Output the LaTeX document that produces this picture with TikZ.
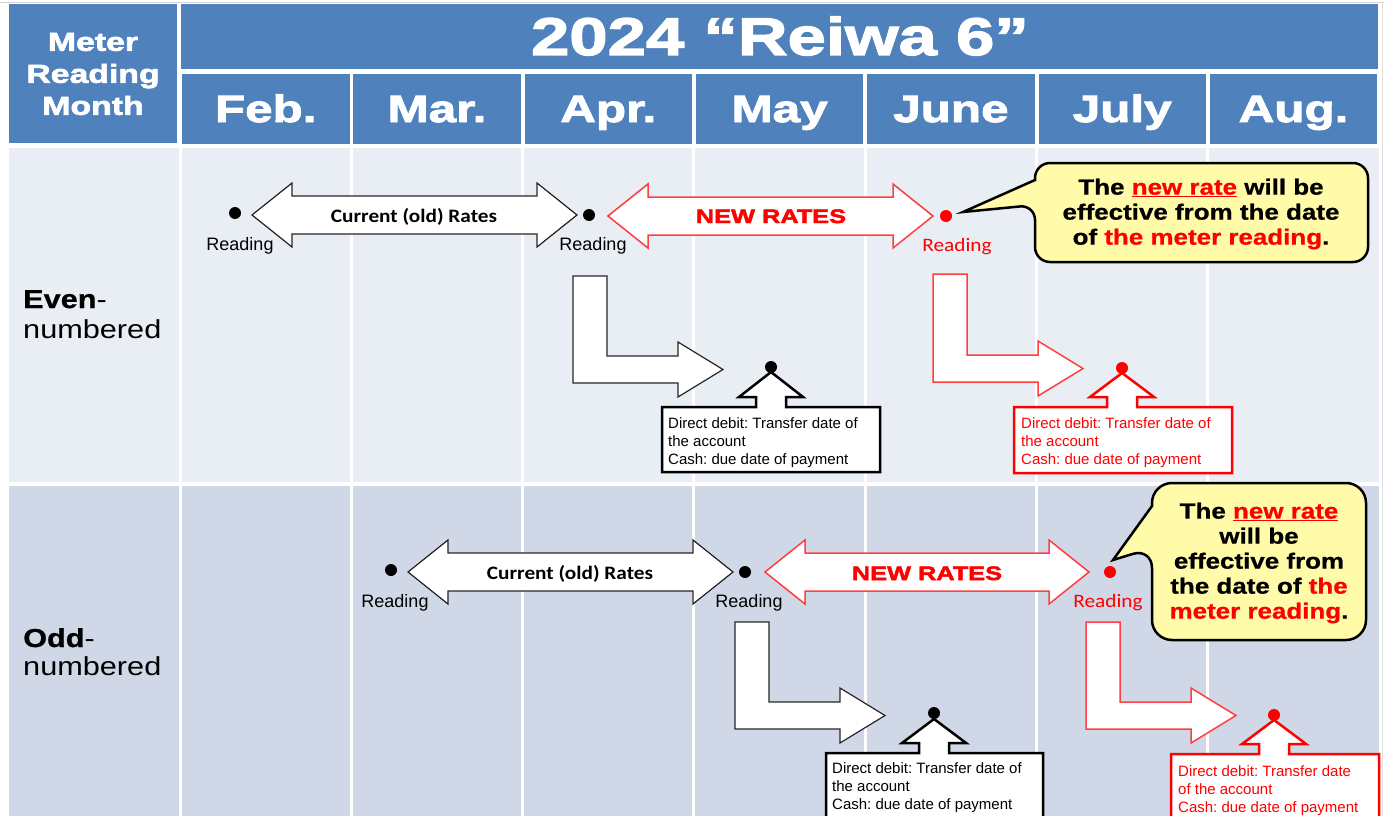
\documentclass[tikz,border=0pt]{standalone}
\usepackage{fontspec}
\setmainfont{Liberation Sans}
\newfontfamily\hdrfont{Liberation Sans}[FakeStretch=1.3,BoldFeatures={FakeBold=2.5}]
\newfontfamily\widefont{Liberation Sans}[FakeStretch=1.18,BoldFeatures={FakeBold=0.8}]
\newfontfamily\calibrifont{Carlito}[FakeStretch=1.12]
\usepackage{tikz}
\frenchspacing

\definecolor{hdrblue}{HTML}{4F81BD}
\definecolor{evenrow}{HTML}{E9EDF4}
\definecolor{oddrow}{HTML}{D0D8E8}
\definecolor{notefill}{HTML}{FFFBA8}
\definecolor{lightred}{HTML}{FF4040}

\begin{document}
\begin{tikzpicture}[x=1pt,y=-1pt,
  rdot/.style={circle,fill=#1,inner sep=0pt,minimum size=12pt},
  rdot/.default=black,
  oldread/.style={anchor=base,font=\fontsize{18}{20}\selectfont},
  newread/.style={anchor=base,text=red,font=\calibrifont\fontsize{19}{21}\selectfont},
  oldarrow/.style={draw=black!85,fill=white,line width=1.2pt},
  newarrow/.style={draw=lightred,fill=white,line width=1.5pt},
  oldbox/.style={draw=black,fill=white,line width=2.5pt},
  newbox/.style={draw=red,fill=white,line width=2.5pt},
  boxtext/.style={anchor=north west,align=left,inner sep=0pt,font=\fontsize{15}{18}\selectfont},
  note/.style={draw=black,fill=notefill,line width=2.5pt},
  notetext/.style={align=center,inner sep=0pt,font=\widefont\bfseries\fontsize{22}{25}\selectfont},
  monthtext/.style={anchor=base,text=white,font=\hdrfont\bfseries\fontsize{38}{40}\selectfont},
  rowlabel/.style={anchor=base west,inner sep=0pt,font=\widefont\fontsize{26}{30}\selectfont}]

  \useasboundingbox (0,0) rectangle (1384,816);
  \fill[white] (0,0) rectangle (1384,816);

  % shapes used twice per row
  \def\dblarrow#1#2#3#4{% left tip, right tip, middle, style
    \draw[#4] (#1,#3) -- (#1+40,#3-32) -- (#1+40,#3-19) -- (#2-40,#3-19) -- (#2-40,#3-32)
      -- (#2,#3) -- (#2-40,#3+32) -- (#2-40,#3+19) -- (#1+40,#3+19) -- (#1+40,#3+32) -- cycle;}
  \def\elbow#1#2#3#4#5{% left, top, bottom, tip, style
    \draw[#5] (#1,#2) -- (#1+34,#2) -- (#1+34,#3-27) -- (#4-45,#3-27) -- (#4-45,#3-41)
      -- (#4,#3-13.5) -- (#4-45,#3+14) -- (#4-45,#3) -- (#1,#3) -- cycle;}
  \def\upbox#1#2#3#4#5#6#7{% box corners, tip, style
    \draw[#7] (#1,#2) -- (#5-15,#2) -- (#5-15,#2-10) -- (#5-32,#2-10) -- (#5,#6) -- (#5+32,#2-10)
      -- (#5+15,#2-10) -- (#5+15,#2) -- (#3,#2) -- (#3,#4) -- (#1,#4) -- cycle;}

  % Header
  \draw[gray!35] (0,2) -- (1384,2);
  \draw[gray!25] (1382,2) -- (1382,816);
  \fill[hdrblue] (9,4) rectangle (177,143);
  \node[align=center,text=white,font=\hdrfont\bfseries\fontsize{26}{32}\selectfont] (meter) at (93,74) {Meter\\Reading\\Month};
  \fill[hdrblue] (181,4) rectangle (1378,69);
  \node[anchor=base,text=white,font=\hdrfont\bfseries\fontsize{53}{60}\selectfont] (title) at (780,55) {2024 “Reiwa 6”};
  \foreach \m [count=\i from 0] in {Feb.,Mar.,Apr.,May,June,July,Aug.} {
    \fill[hdrblue] (182+171.3*\i,74) rectangle (349.5+171.3*\i,144);
    \node[monthtext] (month\i) at (265.7+171.3*\i,122) {\m};
  }

  % Rows
  \fill[evenrow] (9,148) rectangle (1379,482);
  \fill[oddrow] (9,486) rectangle (1379,816);
  \foreach \i in {0,...,6}
    \draw[white,line width=3pt] (180+171.3*\i,148) -- (180+171.3*\i,816);
  \node[rowlabel] (even) at (23,308) {\textbf{Even}-};
  \node[rowlabel] (evennum) at (23,338) {numbered};
  \node[rowlabel] (odd) at (23,647) {\textbf{Odd}-};
  \node[rowlabel] (oddnum) at (23,675) {numbered};

  % Even-numbered row
  \dblarrow{252}{577}{215}{oldarrow}
  \node[anchor=base,font=\calibrifont\bfseries\fontsize{19}{21}\selectfont] (oldE) at (414,222) {Current (old) Rates};
  \dblarrow{608}{933}{216}{newarrow}
  \node[anchor=base,text=red,font=\hdrfont\bfseries\fontsize{19.5}{22}\selectfont] (newE) at (771,223) {NEW RATES};
  \node[rdot] (readE1) at (235,213) {};
  \node[rdot] (readE2) at (589,215) {};
  \node[rdot=red] (readE3) at (946,216) {};
  \node[oldread] (labE1) at (240,250) {Reading};
  \node[oldread] (labE2) at (593,250) {Reading};
  \node[newread] (labE3) at (957,251) {Reading};

  \draw[note] (1200,163) [rounded corners=15] -- (1368,163) -- (1368,262) -- (1035,262) -- (1035,205)
    [sharp corners] -- (963,212) -- (1035,180) [rounded corners=15] -- (1035,163) -- cycle;
  \node[notetext] (noteE) at (1201,214) {The \textcolor{red}{\underline{new rate}} will be\\effective from the date\\of \textcolor{red}{the meter reading}.};

  \elbow{573}{276}{383}{723}{oldarrow}
  \upbox{662}{407}{880}{472}{771}{372}{oldbox}
  \node[rdot] (payE1) at (771,367) {};
  \node[boxtext] (boxE1) at (668,417) {Direct debit: Transfer date of\\the account\\Cash: due date of payment};

  \elbow{933}{274}{382}{1083}{newarrow}
  \upbox{1014}{407}{1232}{473}{1122}{373}{newbox}
  \node[rdot=red] (payE2) at (1122,368) {};
  \node[boxtext,text=red] (boxE2) at (1021,417) {Direct debit: Transfer date of\\the account\\Cash: due date of payment};

  % Odd-numbered row
  \dblarrow{408}{733}{572}{oldarrow}
  \node[anchor=base,font=\calibrifont\bfseries\fontsize{19}{21}\selectfont] (oldO) at (570,579) {Current (old) Rates};
  \dblarrow{765}{1089}{572}{newarrow}
  \node[anchor=base,text=red,font=\hdrfont\bfseries\fontsize{19.5}{22}\selectfont] (newO) at (927,580) {NEW RATES};
  \node[rdot] (readO1) at (391,570) {};
  \node[rdot] (readO2) at (745,572) {};
  \node[rdot=red] (readO3) at (1110,572) {};
  \node[oldread] (labO1) at (395,607) {Reading};
  \node[oldread] (labO2) at (749,607) {Reading};
  \node[newread] (labO3) at (1108,607) {Reading};

  \draw[note] (1260,483) [rounded corners=20] -- (1366,483) -- (1366,640) -- (1152,640) -- (1152,548)
    [sharp corners] -- (1113,560) -- (1152,506) [rounded corners=20] -- (1152,483) -- cycle;
  \node[notetext] (noteO) at (1259,563) {The \textcolor{red}{\underline{new rate}}\\will be\\effective from\\the date of \textcolor{red}{the}\\\textcolor{red}{meter reading}.};

  \elbow{735}{622}{729}{885}{oldarrow}
  \upbox{826}{753}{1043}{830}{934}{719}{oldbox}
  \node[rdot] (payO1) at (934,713) {};
  \node[boxtext] (boxO1) at (832,762) {Direct debit: Transfer date of\\the account\\Cash: due date of payment};

  \elbow{1086}{622}{729}{1236}{newarrow}
  \upbox{1171}{754}{1379}{830}{1274}{720}{newbox}
  \node[rdot=red] (payO2) at (1274,715) {};
  \node[boxtext,text=red] (boxO2) at (1178,765) {Direct debit: Transfer date\\of the account\\Cash: due date of payment};
\end{tikzpicture}
\end{document}
